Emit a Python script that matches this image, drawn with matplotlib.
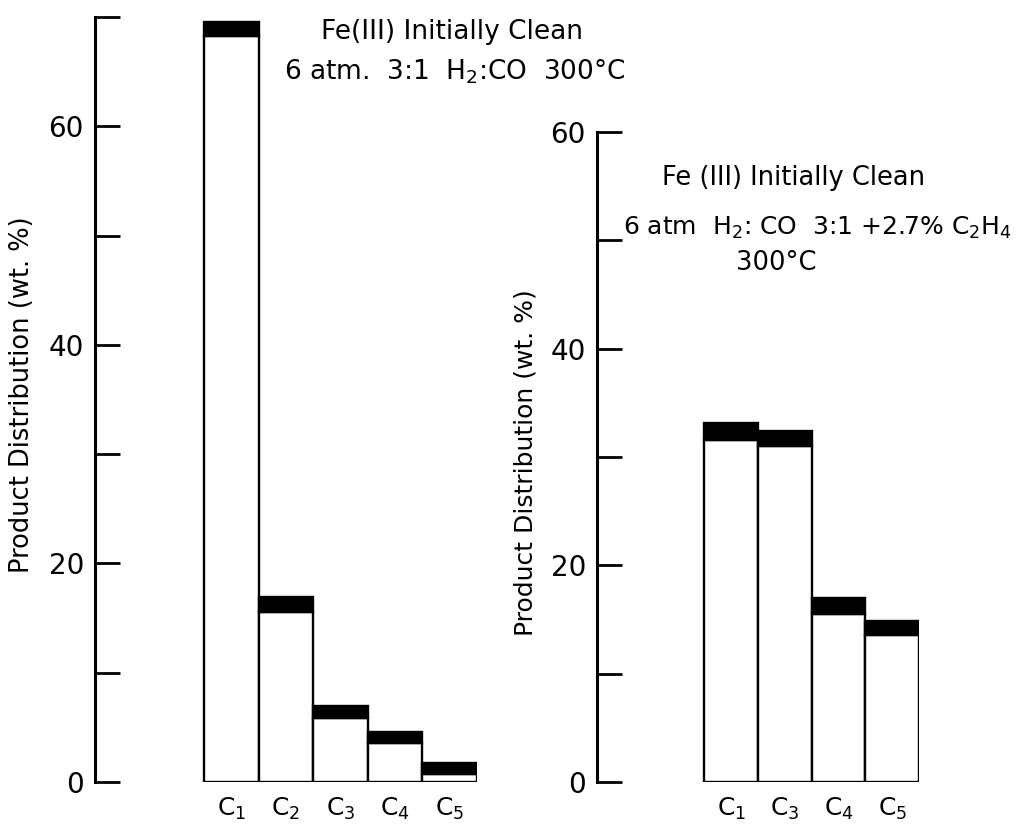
import matplotlib
matplotlib.use("Agg")
import matplotlib.pyplot as plt
from matplotlib.ticker import MultipleLocator, FuncFormatter

plt.rcParams['font.family'] = ['DejaVu Sans']
plt.rcParams['mathtext.fontset'] = 'dejavusans'

# Product distribution (wt. %) -- lower (white) part and upper (black) band
left_categories = ["C$_1$", "C$_2$", "C$_3$", "C$_4$", "C$_5$"]
left_white = [68.3, 15.6, 5.9, 3.6, 0.7]
left_black = [1.2, 1.3, 1.1, 1.0, 1.0]

right_categories = ["C$_1$", "C$_3$", "C$_4$", "C$_5$"]
right_white = [31.6, 31.0, 15.5, 13.6]
right_black = [1.5, 1.4, 1.5, 1.3]

W, H = 1016, 825
fig = plt.figure(figsize=(W / 100, H / 100), dpi=100)


def px_axes(x0, y_bottom, width, height):
    return fig.add_axes([x0 / W, (H - y_bottom) / H, width / W, height / H])


def draw_panel(ax, cats, white, black, ymax, xmax):
    xs = [2.5 + i for i in range(len(cats))]
    ax.bar(xs, white, width=1.0, color="white", edgecolor="black",
           linewidth=1.7, zorder=2)
    ax.bar(xs, black, width=1.0, bottom=white, color="black",
           edgecolor="black", linewidth=1.7, zorder=3)
    ax.set_xlim(0, xmax)
    ax.set_ylim(0, ymax)
    for s in ("top", "right", "bottom"):
        ax.spines[s].set_visible(False)
    ax.spines["left"].set_linewidth(2.2)
    ax.spines["left"].set_bounds(0, ymax)
    ax.yaxis.set_major_locator(MultipleLocator(10))
    ax.yaxis.set_major_formatter(
        FuncFormatter(lambda v, p: f"{int(round(v))}" if round(v) % 20 == 0 else ""))
    ax.tick_params(axis="y", direction="in", length=18, width=2.0,
                   labelsize=20, pad=8)
    ax.set_xticks(xs)
    ax.set_xticklabels(cats)
    ax.tick_params(axis="x", length=0, labelsize=18, pad=10)
    ax.patch.set_alpha(0)


ax1 = px_axes(95, 782, 382, 765)
draw_panel(ax1, left_categories, left_white, left_black, 70, 7)

ax2 = px_axes(597, 782, 322, 650)
draw_panel(ax2, right_categories, right_white, right_black, 60, 6)


def ftext(x, y, s, **kw):
    fig.text(x / W, 1 - y / H, s, ha="center", va="center", **kw)


ftext(22, 395, "Product Distribution (wt. %)", rotation=90, fontsize=18.5)
ftext(526, 463, "Product Distribution (wt. %)", rotation=90, fontsize=18)

ftext(452, 32, "Fe(III) Initially Clean", fontsize=19)
ftext(455, 72, "6 atm.  3:1  H$_2$:CO  300°C", fontsize=19)

ftext(794, 178, "Fe (III) Initially Clean", fontsize=18.5)
ftext(817, 228, "6 atm  H$_2$: CO  3:1 +2.7% C$_2$H$_4$", fontsize=18)
ftext(776, 263, "300°C", fontsize=18.5)

fig.savefig("out.png", dpi=100)
